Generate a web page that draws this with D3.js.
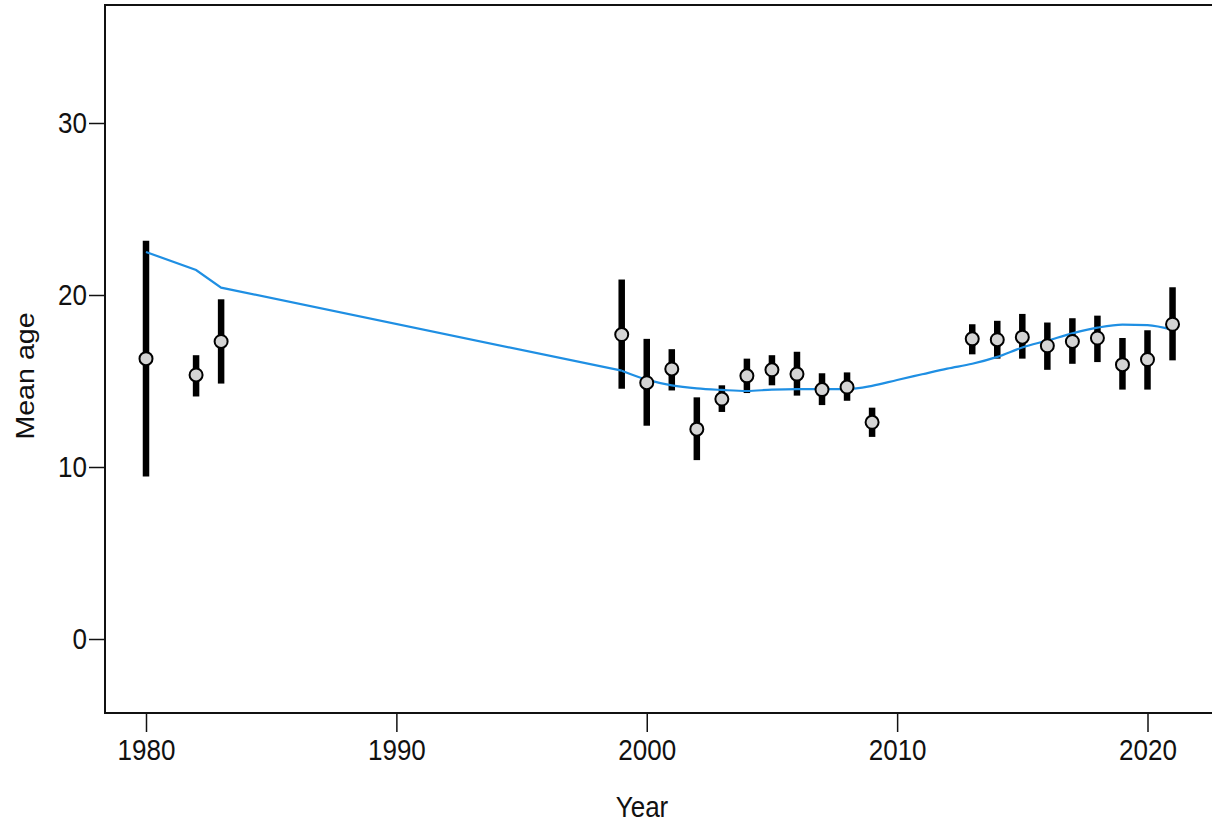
<!DOCTYPE html>
<html>
<head>
<meta charset="utf-8">
<script src="https://cdn.jsdelivr.net/npm/d3@7"></script>
<style>
  html, body { margin: 0; padding: 0; background: #fff; }
  svg { display: block; }
  text { font-family: "Liberation Sans", Arial, sans-serif; fill: #111; }
</style>
</head>
<body>
<svg id="chart" width="1212" height="826"></svg>
<script>
// ---- data ----
const years = [1980, 1982, 1983, 1999, 2000, 2001, 2002, 2003, 2004, 2005, 2006, 2007, 2008, 2009,
               2013, 2014, 2015, 2016, 2017, 2018, 2019, 2020, 2021];
const meanAge = [16.3, 15.35, 17.3, 17.7, 14.9, 15.7, 12.2, 13.95, 15.3, 15.65, 15.4, 14.5, 14.65, 12.6,
                 17.45, 17.4, 17.55, 17.05, 17.3, 17.5, 15.95, 16.25, 18.3];
const lowerCI = [9.45, 14.1, 14.85, 14.55, 12.4, 14.45, 10.4, 13.2, 14.3, 14.75, 14.15, 13.6, 13.85, 11.75,
                 16.55, 16.3, 16.3, 15.65, 16.0, 16.1, 14.5, 14.5, 16.2];
const upperCI = [23.15, 16.5, 19.75, 20.9, 17.45, 16.85, 14.05, 14.75, 16.3, 16.5, 16.7, 15.45, 15.5, 13.45,
                 18.3, 18.5, 18.9, 18.4, 18.65, 18.8, 17.5, 17.95, 20.45];
const trendYears = [1980, 1982, 1983, 1999, 2000, 2001, 2002, 2003, 2004, 2005, 2006, 2007, 2008, 2009,
                    2010, 2011, 2012, 2013, 2014, 2015, 2016, 2017, 2018, 2019, 2020, 2021];
const trendValues = [22.5, 21.45, 20.43, 15.6, 15.08, 14.75, 14.57, 14.48, 14.42, 14.5, 14.53, 14.53, 14.53, 14.72,
                     15.06, 15.39, 15.72, 16.0, 16.4, 16.95, 17.35, 17.77, 18.1, 18.28, 18.25, 17.97];
const xTicks = [1980, 1990, 2000, 2010, 2020];
const yTicks = [0, 10, 20, 30];

// ---- layout ----
const svg = d3.select("#chart");
const frame = { left: 105, top: 5, right: 1216, bottom: 713 };
const x = d3.scaleLinear().domain([1980, 2020]).range([146, 1147.5]);
const y = d3.scaleLinear().domain([0, 30]).range([639, 123]);
const stretch = 1.1;

// frame (top/left/bottom visible; right edge is beyond the image)
svg.append("path")
  .attr("d", `M${frame.right},${frame.top} H${frame.left} V${frame.bottom} H${frame.right}`)
  .attr("fill", "none").attr("stroke", "#111").attr("stroke-width", 2);

function stretchText(sel) {
  sel.each(function () {
    const t = d3.select(this);
    const ty = +t.attr("y") || 0;
    t.attr("transform", `translate(0,${ty}) scale(1,${stretch})`).attr("y", 0);
  });
}

// x axis
const xAxis = d3.axisBottom(x).tickValues(xTicks).tickFormat(d3.format("d")).tickSize(19).tickPadding(8);
const gx = svg.append("g").attr("transform", `translate(0,${frame.bottom})`).call(xAxis);
gx.select(".domain").remove();
gx.selectAll(".tick line").attr("stroke", "#111").attr("stroke-width", 1.5);
gx.selectAll(".tick text").style("font-size", "26px").attr("fill", "#111").call(stretchText);

// y axis
const yAxis = d3.axisLeft(y).tickValues(yTicks).tickSize(16).tickPadding(2);
const gy = svg.append("g").attr("transform", `translate(${frame.left},0)`).call(yAxis);
gy.select(".domain").remove();
gy.selectAll(".tick line").attr("stroke", "#111").attr("stroke-width", 1.5);
gy.selectAll(".tick text").style("font-size", "26px").attr("fill", "#111").call(stretchText);

// axis titles
svg.append("text")
  .attr("transform", `translate(642,817) scale(1,${stretch})`)
  .attr("text-anchor", "middle").style("font-size", "26px")
  .text("Year");
svg.append("text")
  .attr("transform", `translate(34,376) rotate(-90) scale(${stretch},1)`)
  .attr("text-anchor", "middle").style("font-size", "26px")
  .text("Mean age");

// error bars
const pts = years.map((yr, i) => ({ yr, m: meanAge[i], lo: lowerCI[i], hi: upperCI[i] }));
svg.append("g").selectAll("line").data(pts).join("line")
  .attr("x1", d => x(d.yr)).attr("x2", d => x(d.yr))
  .attr("y1", d => y(d.lo)).attr("y2", d => y(d.hi))
  .attr("stroke", "#000").attr("stroke-width", 6.5);

// trend line: straight through the early sparse years, smooth from 1999 on
const trend = trendYears.map((yr, i) => ({ yr, v: trendValues[i] }));
const early = trend.filter(d => d.yr <= 1999);
const late = trend.filter(d => d.yr >= 1999);
svg.append("path")
  .datum(early)
  .attr("fill", "none").attr("stroke", "#1f8fe3").attr("stroke-width", 2.2)
  .attr("d", d3.line().x(d => x(d.yr)).y(d => y(d.v)).curve(d3.curveLinear));
svg.append("path")
  .datum(late)
  .attr("fill", "none").attr("stroke", "#1f8fe3").attr("stroke-width", 2.2)
  .attr("d", d3.line().x(d => x(d.yr)).y(d => y(d.v)).curve(d3.curveMonotoneX));

// points
svg.append("g").selectAll("circle").data(pts).join("circle")
  .attr("cx", d => x(d.yr)).attr("cy", d => y(d.m)).attr("r", 6.5)
  .attr("fill", "#d4d4d4").attr("stroke", "#000").attr("stroke-width", 2);
</script>
</body>
</html>
